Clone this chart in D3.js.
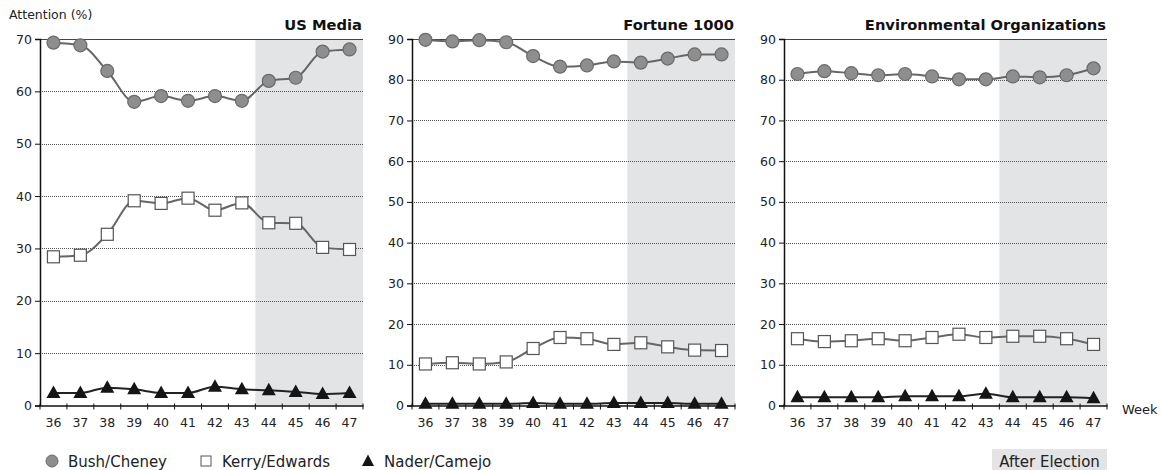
<!DOCTYPE html>
<html><head><meta charset="utf-8">
<script src="https://cdn.jsdelivr.net/npm/d3@7"></script>
<style>body{margin:0;background:#fff}svg{display:block}</style>
</head><body>
<svg id="c" width="1161" height="470"></svg>
<script>
const weeks = ["36","37","38","39","40","41","42","43","44","45","46","47"];
const afterElection = ["44","45","46","47"];
const panelTitles = ["US Media","Fortune 1000","Environmental Organizations"];
const yMax = [70, 90, 90];
const bushUS = [69.3,68.8,63.9,58.0,59.1,58.2,59.1,58.2,62.0,62.6,67.6,68.0];
const kerryUS = [28.4,28.7,32.7,39.1,38.6,39.6,37.3,38.7,34.9,34.8,30.2,29.8];
const naderUS = [2.4,2.4,3.4,3.1,2.4,2.4,3.6,3.1,2.9,2.6,2.2,2.4];
const bushF = [89.8,89.4,89.7,89.2,85.8,83.2,83.5,84.5,84.2,85.2,86.2,86.2];
const kerryF = [10.2,10.5,10.2,10.7,14.0,16.7,16.4,15.0,15.4,14.4,13.6,13.5];
const naderF = [0.4,0.4,0.4,0.4,0.6,0.4,0.4,0.6,0.6,0.6,0.4,0.4];
const bushE = [81.4,82.1,81.6,81.1,81.4,80.8,80.1,80.1,80.8,80.6,81.1,82.8];
const kerryE = [16.4,15.7,15.9,16.4,15.9,16.7,17.5,16.7,17.0,17.0,16.4,15.0];
const naderE = [2.0,2.0,2.0,2.0,2.3,2.3,2.3,2.9,2.0,2.0,2.0,1.8];
const seriesNames = ["Bush/Cheney","Kerry/Edwards","Nader/Camejo"];
const panelData = [[bushUS,kerryUS,naderUS],[bushF,kerryF,naderF],[bushE,kerryE,naderE]];

(function(){
const svg = d3.select("#c");
const font = "'DejaVu Sans', sans-serif";
const panelLeft = [40, 412, 784];
const pw = 323, yTop = 39, yBot = 405.5;

panelData.forEach((ser, pi) => {
  const g = svg.append("g").attr("transform", `translate(${panelLeft[pi]},0)`);
  const x = d3.scaleBand().domain(weeks).range([0, pw]);
  const y = d3.scaleLinear().domain([0, yMax[pi]]).range([yBot, yTop]);
  g.append("rect").attr("x", x(afterElection[0])).attr("y", yTop)
    .attr("width", pw - x(afterElection[0])).attr("height", yBot - yTop).attr("fill", "#e3e4e6");
  const ticks = d3.range(0, yMax[pi] + 1, 10);
  ticks.filter(t => t > 0 && t < yMax[pi]).forEach(t => {
    g.append("line").attr("x1", 0).attr("x2", pw).attr("y1", Math.round(y(t))+0.5).attr("y2", Math.round(y(t))+0.5)
      .attr("stroke", "#555").attr("stroke-width", 1).attr("stroke-dasharray", "1,1");
  });
  g.append("line").attr("x1", 0).attr("x2", pw).attr("y1", yTop+0.5).attr("y2", yTop+0.5)
    .attr("stroke", "#444").attr("stroke-width", 1.2);
  const ya = g.append("g").call(d3.axisLeft(y).tickValues(ticks).tickSize(5).tickPadding(3));
  ya.select(".domain").attr("stroke", "#111").attr("stroke-width", 1.5);
  ya.selectAll(".tick line").attr("stroke", "#111");
  ya.selectAll("text").attr("font-family", font).attr("font-size", 12.5).attr("fill", "#222");
  const xa = g.append("g").attr("transform", `translate(0,${yBot})`)
    .call(d3.axisBottom(x).tickSize(0).tickPadding(13));
  xa.select(".domain").attr("stroke", "#111").attr("stroke-width", 1.5);
  xa.selectAll("text").attr("font-family", font).attr("font-size", 12.5).attr("fill", "#222");
  const bounds = weeks.map(w => x(w)).concat([pw]);
  bounds.forEach(b => {
    xa.append("line").attr("x1", b).attr("x2", b).attr("y1", -2).attr("y2", 4).attr("stroke", "#111").attr("stroke-width", 1);
  });
  g.append("text").attr("x", pw - 1).attr("y", 30).attr("text-anchor", "end")
    .attr("font-family", font).attr("font-weight", "bold").attr("font-size", 14.7).attr("fill", "#111")
    .text(panelTitles[pi]);
  const cx = w => x(w) + x.bandwidth() / 2;
  const line = d3.line().x((d, i) => cx(weeks[i])).y(d => y(d)).curve(d3.curveMonotoneX);
  ser.forEach((vals, si) => {
    g.append("path").attr("d", line(vals)).attr("fill", "none")
      .attr("stroke", si === 2 ? "#222" : "#666").attr("stroke-width", 2);
  });
  ser.forEach((vals, si) => {
    vals.forEach((v, i) => {
      const px = cx(weeks[i]), py = y(v);
      if (si === 0) {
        g.append("circle").attr("cx", px).attr("cy", py).attr("r", 6.5)
          .attr("fill", "#8e8e8e").attr("stroke", "#6a6a6a").attr("stroke-width", 1.2);
      } else if (si === 1) {
        g.append("rect").attr("x", px - 6).attr("y", py - 6).attr("width", 12).attr("height", 12)
          .attr("fill", "#fff").attr("stroke", "#555").attr("stroke-width", 1.2);
      } else {
        g.append("path").attr("d", `M${px},${py-7.5}L${px+7},${py+5}L${px-7},${py+5}Z`).attr("fill", "#151515");
      }
    });
  });
});

svg.append("text").attr("x", 9).attr("y", 19).attr("font-family", font).attr("font-size", 12.5).attr("fill", "#222").text("Attention (%)");
svg.append("text").attr("x", 1122).attr("y", 414).attr("font-family", font).attr("font-size", 13).attr("fill", "#222").text("Week");

const lg = svg.append("g");
const legX = [52, 206, 368];
seriesNames.forEach((n, i) => {
  const lx = legX[i], ly = 461;
  if (i === 0) lg.append("circle").attr("cx", lx).attr("cy", ly).attr("r", 6).attr("fill", "#8e8e8e").attr("stroke", "#6a6a6a");
  else if (i === 1) lg.append("rect").attr("x", lx - 5).attr("y", ly - 5).attr("width", 10).attr("height", 10).attr("fill", "#fff").attr("stroke", "#555");
  else lg.append("path").attr("d", `M${lx},${ly-6.5}L${lx+6},${ly+5}L${lx-6},${ly+5}Z`).attr("fill", "#151515");
  lg.append("text").attr("x", lx + 16).attr("y", ly + 5.5).attr("font-family", font).attr("font-size", 15).attr("fill", "#222").text(n);
});
lg.append("rect").attr("x", 992).attr("y", 449).attr("width", 115).attr("height", 21).attr("fill", "#e3e4e6").attr("rx", 1);
lg.append("text").attr("x", 1049.5).attr("y", 466.5).attr("text-anchor", "middle").attr("font-family", font).attr("font-size", 15).attr("fill", "#222").text("After Election");
})();
</script>
</body></html>
